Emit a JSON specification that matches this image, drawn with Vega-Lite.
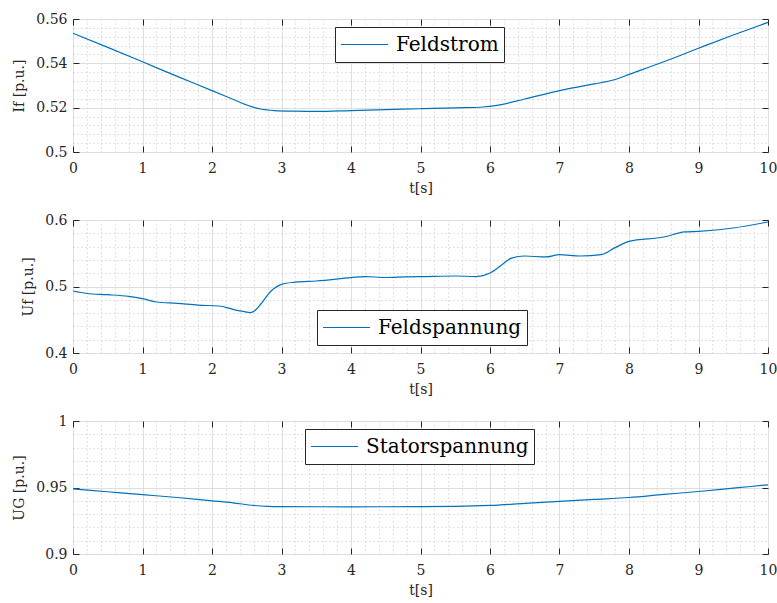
{
  "$schema": "https://vega.github.io/schema/vega-lite/v6.json",
  "background": "white",
  "padding": {"left": 12, "top": 11, "right": 10, "bottom": 5},
  "spacing": 16,
  "datasets": {
    "feldstrom": [
      {"t": 0, "v": 0.5536}, {"t": 0.5, "v": 0.5472}, {"t": 1, "v": 0.5407}, {"t": 1.5, "v": 0.5341},
      {"t": 2, "v": 0.5277}, {"t": 2.3, "v": 0.5238}, {"t": 2.5, "v": 0.5212}, {"t": 2.7, "v": 0.5194},
      {"t": 2.9, "v": 0.5187}, {"t": 3.2, "v": 0.5184}, {"t": 3.5, "v": 0.5183}, {"t": 4, "v": 0.5187},
      {"t": 4.5, "v": 0.5191}, {"t": 5, "v": 0.5195}, {"t": 5.5, "v": 0.5199}, {"t": 5.9, "v": 0.5203},
      {"t": 6.1, "v": 0.521}, {"t": 6.5, "v": 0.5239}, {"t": 7, "v": 0.5277}, {"t": 7.5, "v": 0.5307},
      {"t": 7.8, "v": 0.5327}, {"t": 8, "v": 0.535}, {"t": 8.5, "v": 0.5407}, {"t": 9, "v": 0.5468},
      {"t": 9.5, "v": 0.5528}, {"t": 10, "v": 0.5585}
    ],
    "feldspannung": [
      {"t": 0, "v": 0.4932}, {"t": 0.2, "v": 0.4895}, {"t": 0.5, "v": 0.4877}, {"t": 0.8, "v": 0.4852},
      {"t": 1, "v": 0.4817}, {"t": 1.2, "v": 0.4767}, {"t": 1.5, "v": 0.4747}, {"t": 1.8, "v": 0.472},
      {"t": 2.1, "v": 0.4707}, {"t": 2.3, "v": 0.4657}, {"t": 2.45, "v": 0.4625}, {"t": 2.55, "v": 0.4607},
      {"t": 2.62, "v": 0.464}, {"t": 2.7, "v": 0.4733}, {"t": 2.85, "v": 0.4932}, {"t": 3, "v": 0.5033},
      {"t": 3.2, "v": 0.5065}, {"t": 3.5, "v": 0.5083}, {"t": 4, "v": 0.5133}, {"t": 4.2, "v": 0.515},
      {"t": 4.5, "v": 0.5135}, {"t": 4.8, "v": 0.5145}, {"t": 5, "v": 0.5148}, {"t": 5.5, "v": 0.5158},
      {"t": 5.8, "v": 0.515}, {"t": 6, "v": 0.5203}, {"t": 6.15, "v": 0.5308}, {"t": 6.3, "v": 0.5423},
      {"t": 6.5, "v": 0.5459}, {"t": 6.8, "v": 0.5444}, {"t": 7, "v": 0.5479}, {"t": 7.3, "v": 0.5459},
      {"t": 7.6, "v": 0.5479}, {"t": 7.8, "v": 0.5584}, {"t": 8, "v": 0.5679}, {"t": 8.5, "v": 0.5744},
      {"t": 8.8, "v": 0.582}, {"t": 9, "v": 0.583}, {"t": 9.5, "v": 0.588}, {"t": 10, "v": 0.597}
    ],
    "statorspannung": [
      {"t": 0, "v": 0.949}, {"t": 0.5, "v": 0.9468}, {"t": 1, "v": 0.9446}, {"t": 1.5, "v": 0.9425},
      {"t": 2, "v": 0.94}, {"t": 2.3, "v": 0.9385}, {"t": 2.6, "v": 0.9365}, {"t": 2.8, "v": 0.9358},
      {"t": 3, "v": 0.9356}, {"t": 4, "v": 0.9355}, {"t": 5, "v": 0.9356}, {"t": 5.5, "v": 0.9358},
      {"t": 6, "v": 0.9365}, {"t": 6.5, "v": 0.938}, {"t": 7, "v": 0.9395}, {"t": 7.5, "v": 0.941},
      {"t": 8, "v": 0.9425}, {"t": 8.5, "v": 0.9448}, {"t": 9, "v": 0.947}, {"t": 9.5, "v": 0.9495},
      {"t": 10, "v": 0.952}
    ]
  },
  "vconcat": [
    {
      "width": 695, "height": 133,
      "data": {"name": "feldstrom"},
      "transform": [{"calculate": "'Feldstrom'", "as": "series"}],
      "resolve": {"axis": {"x": "independent", "y": "independent"}},
      "layer": [
        {"mark": {"type": "line", "opacity": 0},
         "encoding": {
          "x": {"field": "t", "type": "quantitative", "scale": {"domain": [0, 10], "nice": false},
                "axis": {"orient": "bottom", "values": [0.2,0.4,0.6,0.8,1.2,1.4,1.6,1.8,2.2,2.4,2.6,2.8,3.2,3.4,3.6,3.8,4.2,4.4,4.6,4.8,5.2,5.4,5.6,5.8,6.2,6.4,6.6,6.8,7.2,7.4,7.6,7.8,8.2,8.4,8.6,8.8,9.2,9.4,9.6,9.8], "grid": true, "gridDash": [1, 3], "gridColor": "#c4c4c4", "labels": false, "ticks": false, "domain": false, "title": null}},
          "y": {"field": "v", "type": "quantitative", "scale": {"domain": [0.5, 0.56], "nice": false, "zero": false},
                "axis": {"orient": "left", "values": [0.504,0.508,0.512,0.516,0.524,0.528,0.532,0.536,0.544,0.548,0.552,0.556], "grid": true, "gridDash": [1, 3], "gridColor": "#c4c4c4", "labels": false, "ticks": false, "domain": false, "title": null}}
        }},
        {"mark": {"type": "line", "opacity": 0},
         "encoding": {
          "x": {"field": "t", "type": "quantitative", "axis": {"orient": "top", "values": [0,1,2,3,4,5,6,7,8,9,10], "grid": false, "labels": false, "ticks": true, "tickSize": -6, "domain": false, "title": null}},
          "y": {"field": "v", "type": "quantitative", "axis": {"orient": "right", "values": [0.5,0.52,0.54,0.56], "grid": false, "labels": false, "ticks": true, "tickSize": -6, "domain": false, "title": null}}
        }},
        {"mark": {"type": "line", "opacity": 0},
         "encoding": {
          "x": {"field": "t", "type": "quantitative", "axis": {"orient": "bottom", "values": [0,1,2,3,4,5,6,7,8,9,10], "grid": false, "labels": false, "ticks": true, "tickSize": -6, "domain": false, "title": null}},
          "y": {"field": "v", "type": "quantitative", "axis": {"orient": "left", "values": [0.5,0.52,0.54,0.56], "grid": false, "labels": false, "ticks": true, "tickSize": -6, "domain": false, "title": null}}
        }},
        {"mark": {"type": "line", "strokeWidth": 1.2, "interpolate": "monotone"},
         "encoding": {
          "x": {"field": "t", "type": "quantitative", "axis": {"orient": "bottom", "values": [0,1,2,3,4,5,6,7,8,9,10], "grid": true, "ticks": false, "domain": false, "labelPadding": 9, "labelFlush": false, "title": "t[s]", "titlePadding": 6}},
          "y": {"field": "v", "type": "quantitative", "axis": {"orient": "left", "values": [0.5,0.52,0.54,0.56], "format": "~g", "grid": true, "ticks": false, "domain": false, "labelPadding": 6, "title": "If [p.u.]", "titlePadding": 9}},
          "color": {"field": "series", "type": "nominal", "scale": {"domain": ["Feldstrom"], "range": ["#0072BD"]},
                    "legend": {"orient": "none", "legendX": 262, "legendY": 8}}
        }}
      ]
    },
    {
      "width": 695, "height": 133,
      "data": {"name": "feldspannung"},
      "transform": [{"calculate": "'Feldspannung'", "as": "series"}],
      "resolve": {"axis": {"x": "independent", "y": "independent"}},
      "layer": [
        {"mark": {"type": "line", "opacity": 0},
         "encoding": {
          "x": {"field": "t", "type": "quantitative", "scale": {"domain": [0, 10], "nice": false},
                "axis": {"orient": "bottom", "values": [0.2,0.4,0.6,0.8,1.2,1.4,1.6,1.8,2.2,2.4,2.6,2.8,3.2,3.4,3.6,3.8,4.2,4.4,4.6,4.8,5.2,5.4,5.6,5.8,6.2,6.4,6.6,6.8,7.2,7.4,7.6,7.8,8.2,8.4,8.6,8.8,9.2,9.4,9.6,9.8], "grid": true, "gridDash": [1, 3], "gridColor": "#c4c4c4", "labels": false, "ticks": false, "domain": false, "title": null}},
          "y": {"field": "v", "type": "quantitative", "scale": {"domain": [0.4, 0.6], "nice": false, "zero": false},
                "axis": {"orient": "left", "values": [0.42,0.44,0.46,0.48,0.52,0.54,0.56,0.58], "grid": true, "gridDash": [1, 3], "gridColor": "#c4c4c4", "labels": false, "ticks": false, "domain": false, "title": null}}
        }},
        {"mark": {"type": "line", "opacity": 0},
         "encoding": {
          "x": {"field": "t", "type": "quantitative", "axis": {"orient": "top", "values": [0,1,2,3,4,5,6,7,8,9,10], "grid": false, "labels": false, "ticks": true, "tickSize": -6, "domain": false, "title": null}},
          "y": {"field": "v", "type": "quantitative", "axis": {"orient": "right", "values": [0.4,0.5,0.6], "grid": false, "labels": false, "ticks": true, "tickSize": -6, "domain": false, "title": null}}
        }},
        {"mark": {"type": "line", "opacity": 0},
         "encoding": {
          "x": {"field": "t", "type": "quantitative", "axis": {"orient": "bottom", "values": [0,1,2,3,4,5,6,7,8,9,10], "grid": false, "labels": false, "ticks": true, "tickSize": -6, "domain": false, "title": null}},
          "y": {"field": "v", "type": "quantitative", "axis": {"orient": "left", "values": [0.4,0.5,0.6], "grid": false, "labels": false, "ticks": true, "tickSize": -6, "domain": false, "title": null}}
        }},
        {"mark": {"type": "line", "strokeWidth": 1.2, "interpolate": "monotone"},
         "encoding": {
          "x": {"field": "t", "type": "quantitative", "axis": {"orient": "bottom", "values": [0,1,2,3,4,5,6,7,8,9,10], "grid": true, "ticks": false, "domain": false, "labelPadding": 9, "labelFlush": false, "title": "t[s]", "titlePadding": 6}},
          "y": {"field": "v", "type": "quantitative", "axis": {"orient": "left", "values": [0.4,0.5,0.6], "format": "~g", "grid": true, "ticks": false, "domain": false, "labelPadding": 6, "title": "Uf [p.u.]", "titlePadding": 9}},
          "color": {"field": "series", "type": "nominal", "scale": {"domain": ["Feldspannung"], "range": ["#0072BD"]},
                    "legend": {"orient": "none", "legendX": 244, "legendY": 90}}
        }}
      ]
    },
    {
      "width": 695, "height": 133,
      "data": {"name": "statorspannung"},
      "transform": [{"calculate": "'Statorspannung'", "as": "series"}],
      "resolve": {"axis": {"x": "independent", "y": "independent"}},
      "layer": [
        {"mark": {"type": "line", "opacity": 0},
         "encoding": {
          "x": {"field": "t", "type": "quantitative", "scale": {"domain": [0, 10], "nice": false},
                "axis": {"orient": "bottom", "values": [0.2,0.4,0.6,0.8,1.2,1.4,1.6,1.8,2.2,2.4,2.6,2.8,3.2,3.4,3.6,3.8,4.2,4.4,4.6,4.8,5.2,5.4,5.6,5.8,6.2,6.4,6.6,6.8,7.2,7.4,7.6,7.8,8.2,8.4,8.6,8.8,9.2,9.4,9.6,9.8], "grid": true, "gridDash": [1, 3], "gridColor": "#c4c4c4", "labels": false, "ticks": false, "domain": false, "title": null}},
          "y": {"field": "v", "type": "quantitative", "scale": {"domain": [0.9, 1], "nice": false, "zero": false},
                "axis": {"orient": "left", "values": [0.91,0.92,0.93,0.94,0.96,0.97,0.98,0.99], "grid": true, "gridDash": [1, 3], "gridColor": "#c4c4c4", "labels": false, "ticks": false, "domain": false, "title": null}}
        }},
        {"mark": {"type": "line", "opacity": 0},
         "encoding": {
          "x": {"field": "t", "type": "quantitative", "axis": {"orient": "top", "values": [0,1,2,3,4,5,6,7,8,9,10], "grid": false, "labels": false, "ticks": true, "tickSize": -6, "domain": false, "title": null}},
          "y": {"field": "v", "type": "quantitative", "axis": {"orient": "right", "values": [0.9,0.95,1], "grid": false, "labels": false, "ticks": true, "tickSize": -6, "domain": false, "title": null}}
        }},
        {"mark": {"type": "line", "opacity": 0},
         "encoding": {
          "x": {"field": "t", "type": "quantitative", "axis": {"orient": "bottom", "values": [0,1,2,3,4,5,6,7,8,9,10], "grid": false, "labels": false, "ticks": true, "tickSize": -6, "domain": false, "title": null}},
          "y": {"field": "v", "type": "quantitative", "axis": {"orient": "left", "values": [0.9,0.95,1], "grid": false, "labels": false, "ticks": true, "tickSize": -6, "domain": false, "title": null}}
        }},
        {"mark": {"type": "line", "strokeWidth": 1.2, "interpolate": "monotone"},
         "encoding": {
          "x": {"field": "t", "type": "quantitative", "axis": {"orient": "bottom", "values": [0,1,2,3,4,5,6,7,8,9,10], "grid": true, "ticks": false, "domain": false, "labelPadding": 9, "labelFlush": false, "title": "t[s]", "titlePadding": 6}},
          "y": {"field": "v", "type": "quantitative", "axis": {"orient": "left", "values": [0.9,0.95,1], "format": "~g", "grid": true, "ticks": false, "domain": false, "labelPadding": 6, "title": "UG [p.u.]", "titlePadding": 9}},
          "color": {"field": "series", "type": "nominal", "scale": {"domain": ["Statorspannung"], "range": ["#0072BD"]},
                    "legend": {"orient": "none", "legendX": 232, "legendY": 8}}
        }}
      ]
    }
  ],
  "resolve": {"scale": {"color": "independent"}, "legend": {"color": "independent"}},
  "config": {
    "font": "DejaVu Serif",
    "view": {"stroke": "#262626", "strokeWidth": 1},
    "axis": {
      "labelFont": "DejaVu Serif", "labelFontSize": 14, "labelColor": "#262626",
      "titleFont": "DejaVu Serif", "titleFontSize": 14, "titleFontWeight": "normal", "titleColor": "#262626",
      "tickColor": "#262626", "tickWidth": 1, "gridColor": "#dedede", "gridWidth": 1, "gridOpacity": 1,
      "labelOverlap": false
    },
    "legend": {
      "title": null, "symbolType": "stroke", "symbolSize": 2209, "symbolStrokeWidth": 1.2,
      "labelFont": "DejaVu Serif", "labelFontSize": 20, "labelColor": "#000000", "labelLimit": 400,
      "labelOffset": 7, "clipHeight": 25, "padding": 5,
      "strokeColor": "#262626", "fillColor": "#ffffff", "cornerRadius": 0
    }
  }
}
